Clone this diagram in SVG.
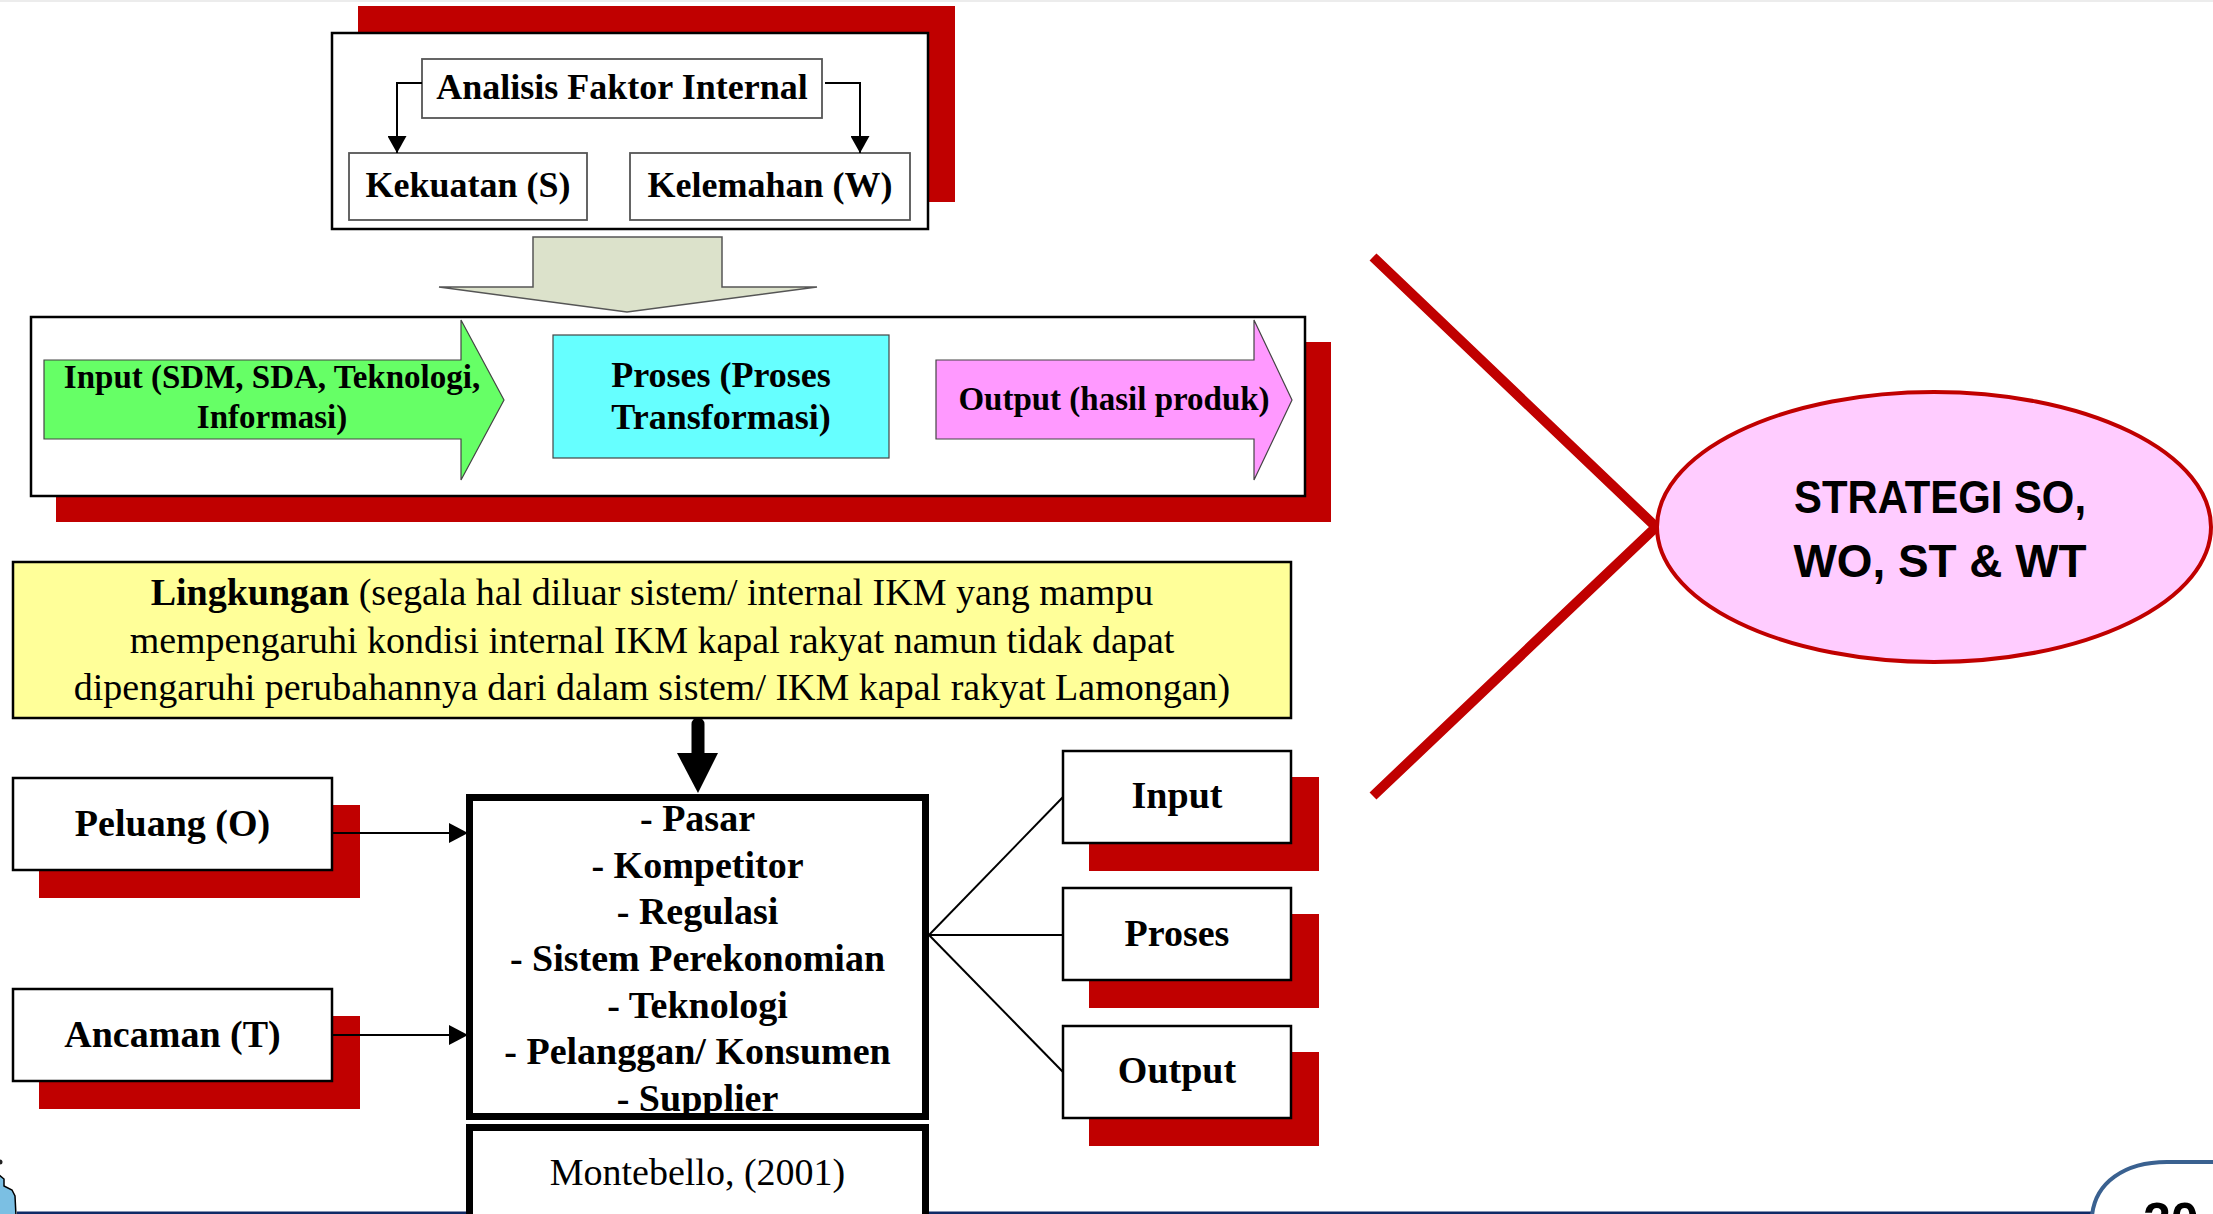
<svg xmlns="http://www.w3.org/2000/svg" width="2213" height="1214" viewBox="0 0 2213 1214">
<defs>
<style>
.serif{font-family:"Liberation Serif","Times New Roman",serif;fill:#000}
.b{font-weight:bold}
.c{text-anchor:middle}
.box{fill:#fff;stroke:#000;stroke-width:2.5}
.gbox{fill:#fff;stroke:#555;stroke-width:1.8}
.shadow{fill:#C00000}
.thick{fill:#fff;stroke:#000;stroke-width:7}
.conn{fill:none;stroke:#000;stroke-width:2}
</style>
<marker id="arrA" markerUnits="userSpaceOnUse" viewBox="0 0 17 19" markerWidth="17" markerHeight="19" refX="17" refY="9.5" orient="auto">
<path d="M0,0 L17,9.5 L0,19 Z" fill="#000"/>
</marker>
<marker id="arrB" markerUnits="userSpaceOnUse" viewBox="0 0 19 20" markerWidth="19" markerHeight="20" refX="19" refY="10" orient="auto">
<path d="M0,0 L19,10 L0,20 Z" fill="#000"/>
</marker>
</defs>
<rect x="0" y="0" width="2213" height="1214" fill="#fff"/>
<rect x="0" y="0" width="2213" height="2" fill="#ececec"/>

<!-- page decorations -->
<g id="footer">
<rect x="17" y="1211.5" width="2075" height="3" fill="#0F2A66"/>
<path d="M2092,1216 C2095,1183 2124,1162 2167,1162 L2215,1162" fill="none" stroke="#3A6190" stroke-width="4"/>
<text x="2143" y="1238" font-family="Liberation Sans, Arial, sans-serif" font-weight="bold" font-size="50" fill="#000">20</text>
<path d="M-2,1174 L4,1179 L4,1186 L12,1190 L15,1196 L16,1216 L-2,1216 Z" fill="#7BBFE3" stroke="#000" stroke-width="1.5"/>
<circle cx="0" cy="1162" r="2.5" fill="#222"/>
</g>

<!-- top: internal factor analysis -->
<g id="internal-panel">
<rect class="shadow" x="358" y="6" width="597" height="196"/>
<rect class="box" x="332" y="33" width="596" height="196" stroke-width="2.5"/>
</g>
<g id="analisis">
<rect class="gbox" x="422" y="59" width="400" height="59"/>
<text class="serif b c" x="622" y="99" font-size="36">Analisis Faktor Internal</text>
</g>
<g id="kekuatan">
<rect class="gbox" x="349" y="153" width="238" height="67"/>
<text class="serif b c" x="468" y="197" font-size="36">Kekuatan (S)</text>
</g>
<g id="kelemahan">
<rect class="gbox" x="630" y="153" width="280" height="67"/>
<text class="serif b c" x="770" y="197" font-size="36">Kelemahan (W)</text>
</g>

<!-- block arrow -->
<g id="block-arrow">
<polygon points="533,237 722,237 722,287 817,287 627,312 439,287 533,287" fill="#DCE2CB" stroke="#555" stroke-width="1.5"/>
</g>

<!-- process panel -->
<g id="process-panel">
<rect class="shadow" x="56" y="342" width="1275" height="180"/>
<rect class="box" x="31" y="317" width="1274" height="179"/>
</g>
<g id="input-arrow">
<polygon points="44,360 461,360 461,320 504,400 461,480 461,439 44,439" fill="#66FF66" stroke="#444" stroke-width="1.2"/>
<text class="serif b c" x="272" y="388" font-size="33">Input (SDM, SDA, Teknologi,</text>
<text class="serif b c" x="272" y="428" font-size="33">Informasi)</text>
</g>
<g id="proses-box">
<rect x="553" y="335" width="336" height="123" fill="#66FFFF" stroke="#444" stroke-width="1.2"/>
<text class="serif b c" x="721" y="387" font-size="36">Proses (Proses</text>
<text class="serif b c" x="721" y="429" font-size="36">Transformasi)</text>
</g>
<g id="output-arrow">
<polygon points="936,360 1254,360 1254,320 1292,400 1254,480 1254,439 936,439" fill="#FF99FF" stroke="#444" stroke-width="1.2"/>
<text class="serif b c" x="1114" y="410" font-size="33">Output (hasil produk)</text>
</g>

<!-- environment -->
<g id="lingkungan">
<rect x="13" y="562" width="1278" height="156" fill="#FFFF99" stroke="#000" stroke-width="2.5"/>
<text class="serif c" x="652" y="605" font-size="38"><tspan font-weight="bold">Lingkungan</tspan> (segala hal diluar sistem/ internal IKM yang mampu</text>
<text class="serif c" x="652" y="653" font-size="38">mempengaruhi kondisi internal IKM kapal rakyat namun tidak dapat</text>
<text class="serif c" x="652" y="700" font-size="38">dipengaruhi perubahannya dari dalam sistem/ IKM kapal rakyat Lamongan)</text>
</g>

<g id="peluang">
<rect class="shadow" x="39" y="805" width="321" height="93"/>
<rect class="box" x="13" y="778" width="319" height="92"/>
<text class="serif b c" x="172.5" y="836" font-size="38">Peluang (O)</text>
</g>
<g id="ancaman">
<rect class="shadow" x="39" y="1016" width="321" height="93"/>
<rect class="box" x="13" y="989" width="319" height="92"/>
<text class="serif b c" x="172.5" y="1047" font-size="38">Ancaman (T)</text>
</g>

<g id="faktor-eksternal">
<rect class="thick" x="469.5" y="797.5" width="456" height="319"/>
<text class="serif b c" x="697.5" font-size="38"><tspan x="697.5" y="831">- Pasar</tspan><tspan x="697.5" y="878">- Kompetitor</tspan><tspan x="697.5" y="924">- Regulasi</tspan><tspan x="697.5" y="971">- Sistem Perekonomian</tspan><tspan x="697.5" y="1018">- Teknologi</tspan><tspan x="697.5" y="1064">- Pelanggan/ Konsumen</tspan><tspan x="697.5" y="1111">- Supplier</tspan></text>
</g>
<g id="montebello">
<rect class="thick" x="469.5" y="1127.5" width="456" height="110"/>
<text class="serif c" x="697.5" y="1185" font-size="38">Montebello, (2001)</text>
</g>

<g id="input-box">
<rect class="shadow" x="1089" y="777" width="230" height="94"/>
<rect class="box" x="1063" y="751" width="228" height="92"/>
<text class="serif b c" x="1177" y="808" font-size="38">Input</text>
</g>
<g id="proses-small">
<rect class="shadow" x="1089" y="914" width="230" height="94"/>
<rect class="box" x="1063" y="888" width="228" height="92"/>
<text class="serif b c" x="1177" y="946" font-size="38">Proses</text>
</g>
<g id="output-box">
<rect class="shadow" x="1089" y="1052" width="230" height="94"/>
<rect class="box" x="1063" y="1026" width="228" height="92"/>
<text class="serif b c" x="1177" y="1083" font-size="38">Output</text>
</g>

<!-- connectors -->
<g id="connectors">
<path class="conn" d="M422,83 H397 V153" marker-end="url(#arrA)"/>
<path class="conn" d="M825,83 H860 V153" marker-end="url(#arrA)"/>
<path class="conn" d="M333,833 H468" marker-end="url(#arrB)"/>
<path class="conn" d="M333,1035 H468" marker-end="url(#arrB)"/>
<path d="M698,724 V757" fill="none" stroke="#000" stroke-width="13" stroke-linecap="round"/>
<polygon points="677,753 718,753 698,793" fill="#000"/>
<path class="conn" d="M929,935 L1063,797"/>
<path class="conn" d="M929,935 L1063,935"/>
<path class="conn" d="M929,935 L1063,1072"/>
<polyline points="1373,257 1656,527 1373,796" fill="none" stroke="#C00000" stroke-width="10"/>
</g>

<g id="strategi">
<ellipse cx="1934" cy="527" rx="277" ry="135" fill="#FFCCFF" stroke="#C00000" stroke-width="4"/>
<text x="1940" y="513" font-family="Liberation Sans, Arial, sans-serif" font-weight="bold" font-size="46" text-anchor="middle" textLength="292" lengthAdjust="spacingAndGlyphs">STRATEGI SO,</text>
<text x="1940" y="577" font-family="Liberation Sans, Arial, sans-serif" font-weight="bold" font-size="46" text-anchor="middle" textLength="293" lengthAdjust="spacingAndGlyphs">WO, ST &amp; WT</text>
</g>
</svg>
